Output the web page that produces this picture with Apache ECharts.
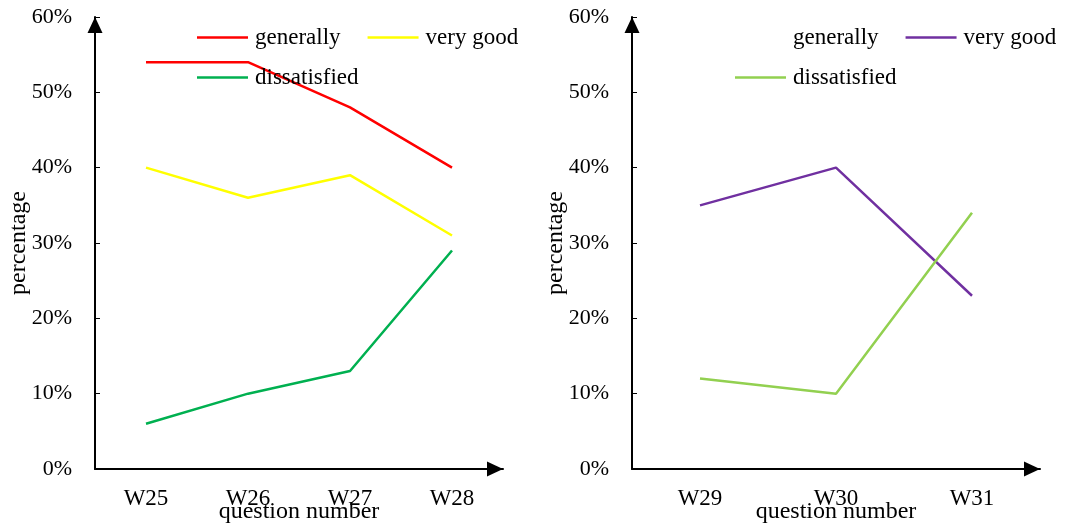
<!DOCTYPE html>
<html><head><meta charset="utf-8">
<script src="https://cdn.jsdelivr.net/npm/echarts@6/dist/echarts.min.js"></script>
<style>html,body{margin:0;padding:0;background:#fff}#c{width:1066px;height:526px}</style>
</head><body><div id="c"></div>
<script>
const seriesNames = ['generally', 'very good', 'dissatisfied'];
const leftCategories = ['W25', 'W26', 'W27', 'W28'];
const leftGenerally = [54, 54, 48, 40];
const leftVeryGood = [40, 36, 39, 31];
const leftDissatisfied = [6, 10, 13, 29];
const rightCategories = ['W29', 'W30', 'W31'];
const rightGenerally = [];
const rightVeryGood = [35, 40, 23];
const rightDissatisfied = [12, 10, 34];
const yTicks = [0, 10, 20, 30, 40, 50, 60];
const xName = 'question number';
const yName = 'percentage';

const FONT = '"Liberation Serif", "Times New Roman", serif';
const chart = echarts.init(document.getElementById('c'));

const arrowLine = {
  show: true,
  lineStyle: {color: '#000', width: 2},
  symbol: ['none', 'triangle'], symbolSize: [15, 16], symbolOffset: [0, -8]
};

function xAxis(idx, cats) {
  return {
    type: 'category', gridIndex: idx, data: cats, boundaryGap: true,
    name: xName, nameLocation: 'middle', nameGap: 31, nameMoveOverlap: false,
    nameTextStyle: {fontFamily: FONT, fontSize: 24, color: '#000'},
    axisLine: arrowLine,
    axisTick: {show: false},
    axisLabel: {fontFamily: FONT, fontSize: 23, color: '#000', margin: 18},
    splitLine: {show: false}
  };
}
function yAxis(idx) {
  return {
    type: 'value', gridIndex: idx, min: yTicks[0], max: yTicks[yTicks.length - 1], interval: 10,
    name: yName, nameLocation: 'middle', nameGap: 64, nameMoveOverlap: false,
    nameTextStyle: {fontFamily: FONT, fontSize: 24, color: '#000'},
    axisLine: arrowLine,
    axisTick: {show: true, inside: true, length: 5, lineStyle: {color: '#000', width: 1}},
    axisLabel: {fontFamily: FONT, fontSize: 22, color: '#000', margin: 23, formatter: v => v + '%'},
    splitLine: {show: false}
  };
}
function line(name, xi, data, color) {
  return {
    type: 'line', name: name, xAxisIndex: xi, yAxisIndex: xi, data: data,
    symbol: 'none', color: color, lineStyle: {color: color, width: 2.5}, silent: true, animation: false
  };
}
function legend(left, top, names) {
  return {
    left: left, top: top, width: 420, padding: 0, orient: 'horizontal', icon: 'rect',
    itemWidth: 51, itemHeight: 2.5, itemGap: 27,
    data: names, selectedMode: false,
    formatter: n => n.split('|')[1],
    textStyle: {fontFamily: FONT, fontSize: 23, color: '#000', padding: [0, 0, 0, 2]}
  };
}

chart.setOption({
  animation: false,
  grid: [
    {left: 95, top: 17, width: 408, bottom: 57, containLabel: false, outerBoundsMode: 'none'},
    {left: 632, top: 17, width: 408, bottom: 57, containLabel: false, outerBoundsMode: 'none'}
  ],
  xAxis: [xAxis(0, leftCategories), xAxis(1, rightCategories)],
  yAxis: [yAxis(0), yAxis(1)],
  legend: [
    legend(197, 26, ['L|' + seriesNames[0], 'L|' + seriesNames[1]]),
    legend(197, 66, ['L|' + seriesNames[2]]),
    legend(735, 26, ['R|' + seriesNames[0], 'R|' + seriesNames[1]]),
    legend(735, 66, ['R|' + seriesNames[2]])
  ],
  series: [
    line('L|' + seriesNames[0], 0, leftGenerally, '#ff0000'),
    line('L|' + seriesNames[1], 0, leftVeryGood, '#ffff00'),
    line('L|' + seriesNames[2], 0, leftDissatisfied, '#00b050'),
    line('R|' + seriesNames[0], 1, rightGenerally, '#ffffff'),
    line('R|' + seriesNames[1], 1, rightVeryGood, '#7030a0'),
    line('R|' + seriesNames[2], 1, rightDissatisfied, '#92d050')
  ]
});
</script></body></html>
